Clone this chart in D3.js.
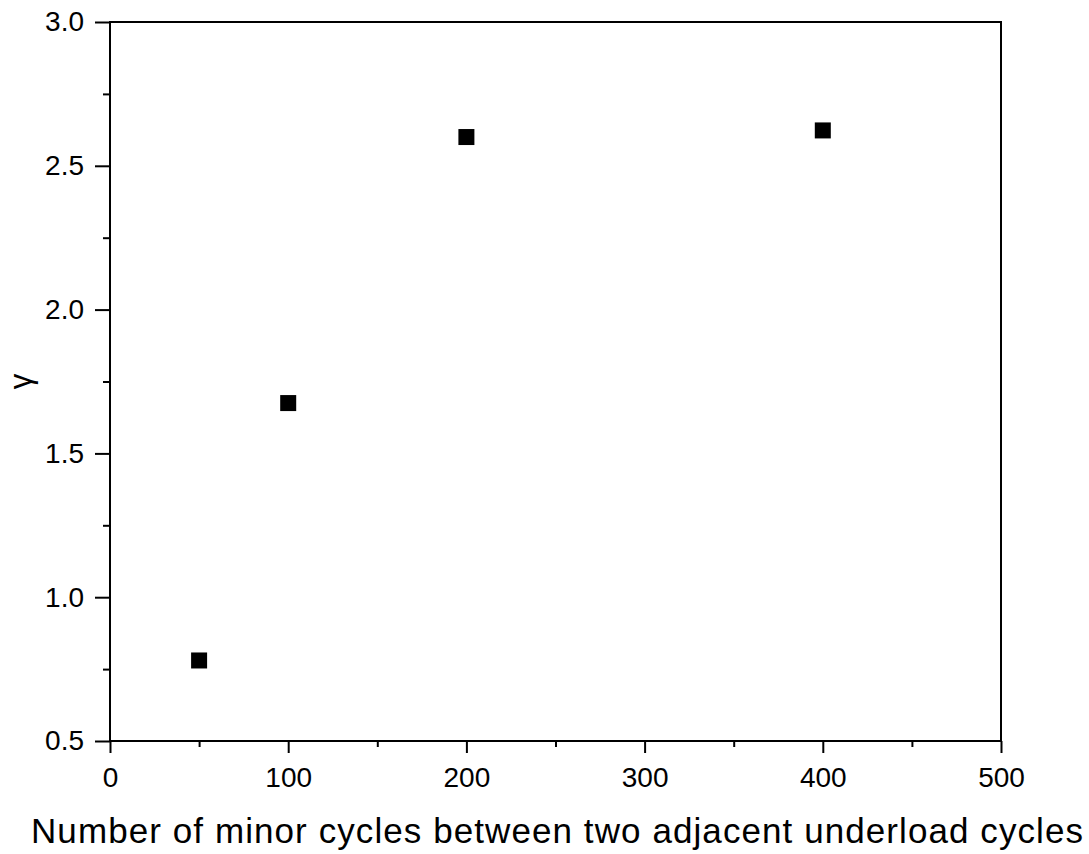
<!DOCTYPE html>
<html>
<head>
<meta charset="utf-8">
<script src="https://cdn.jsdelivr.net/npm/d3@7"></script>
<style>
  html, body { margin: 0; padding: 0; background: #fff; }
  svg { display: block; }
  text { font-family: Arial, "Liberation Sans", sans-serif; fill: #000; }
</style>
</head>
<body>
<svg id="chart" width="1089" height="854"></svg>
<script>
// Minor cycles between adjacent underload cycles vs. gamma
const cycles = [50, 100, 200, 400];
const gamma = [0.78, 1.675, 2.6, 2.623];
const xTicks = [0, 100, 200, 300, 400, 500];
const yTicks = [0.5, 1.0, 1.5, 2.0, 2.5, 3.0];
const xMinor = [50, 150, 250, 350, 450];
const yMinor = [0.75, 1.25, 1.75, 2.25, 2.75];

const svg = d3.select("#chart");
const m = { left: 110, right: 1001, top: 22, bottom: 741 };

const x = d3.scaleLinear().domain([0, 500]).range([m.left, m.right]);
const y = d3.scaleLinear().domain([0.5, 3.0]).range([m.bottom, m.top]);

// frame
svg.append("rect")
  .attr("x", m.left).attr("y", m.top)
  .attr("width", m.right - m.left).attr("height", m.bottom - m.top)
  .attr("fill", "none").attr("stroke", "#000").attr("stroke-width", 2);

// bottom axis: major + minor ticks
svg.append("g").attr("transform", `translate(0,${m.bottom})`)
  .call(d3.axisBottom(x).tickValues(xTicks).tickFormat(d3.format("d")).tickSize(12).tickPadding(14));
svg.append("g").attr("transform", `translate(0,${m.bottom})`)
  .call(d3.axisBottom(x).tickValues(xMinor).tickFormat("").tickSize(6));

// left axis: major + minor ticks
svg.append("g").attr("transform", `translate(${m.left},0)`)
  .call(d3.axisLeft(y).tickValues(yTicks).tickFormat(d3.format(".1f")).tickSize(15).tickPadding(11));
svg.append("g").attr("transform", `translate(${m.left},0)`)
  .call(d3.axisLeft(y).tickValues(yMinor).tickFormat("").tickSize(7));

svg.selectAll(".domain").remove();
svg.selectAll(".tick line").attr("stroke", "#000").attr("stroke-width", 2);
svg.selectAll(".tick text")
  .attr("font-size", 28)
  .attr("font-family", "Arial, 'Liberation Sans', sans-serif")
  .attr("fill", "#000");

// axis titles
svg.append("text")
  .attr("x", 31).attr("y", 843)
  .attr("text-anchor", "start")
  .attr("font-size", 35)
  .attr("textLength", 1052)
  .attr("lengthAdjust", "spacing")
  .text("Number of minor cycles between two adjacent underload cycles");

svg.append("text")
  .attr("transform", `translate(31,${(m.top + m.bottom) / 2}) rotate(-90)`)
  .attr("text-anchor", "middle")
  .attr("font-size", 31)
  .attr("font-family", "'Liberation Serif', 'Times New Roman', serif")
  .text("γ");

// data points: filled squares
const s = 16;
svg.append("g").selectAll("rect")
  .data(cycles.map((c, i) => ({ c, g: gamma[i] })))
  .join("rect")
  .attr("x", d => x(d.c) - s / 2)
  .attr("y", d => y(d.g) - s / 2)
  .attr("width", s).attr("height", s)
  .attr("fill", "#000");
</script>
</body>
</html>
